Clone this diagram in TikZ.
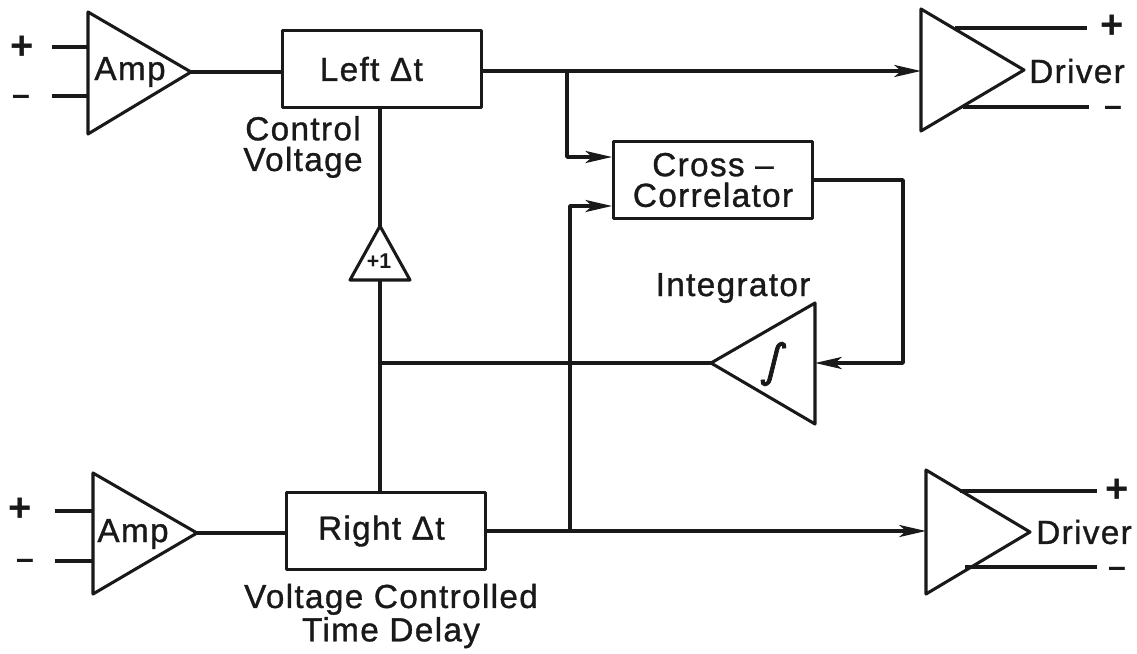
\documentclass[tikz,border=0pt]{standalone}
\usepackage{fontspec}
\setmainfont{Liberation Sans}
\newfontfamily\labf[LetterSpace=4,FakeBold=1]{Liberation Sans}
\newfontfamily\intf[FakeSlant=0.2,FakeBold=1.5]{DejaVu Sans}
\usetikzlibrary{arrows.meta}
\definecolor{ink}{gray}{0.1}
\tikzset{
 heavywire/.style={line width=2.6pt,draw=ink,line join=round},
 arrowwire/.style={heavywire,-{Stealth[length=20pt,width=9pt,inset=5pt]}},
 tri/.style={draw=ink,line width=2.3pt,line join=round},
 lab/.style={font=\labf\fontsize{25}{23}\selectfont,inner sep=0pt,align=center,text=ink},
 boxnode/.style={lab,draw=ink,line width=2.3pt,line join=round,inner sep=0pt,minimum height=58pt,minimum width=149pt},
 sign/.style={font=\bfseries\fontsize{30}{30}\selectfont,inner sep=0pt,text=ink},
 minus/.style={font=\bfseries\fontsize{24}{24}\selectfont,inner sep=0pt,text=ink},
}
\begin{document}
\begin{tikzpicture}[x=0.75pt,y=-0.75pt]
\useasboundingbox (0,0) rectangle (1137,653);
% triangles
\draw[tri] (88,12) -- (191,72) -- (88,134) -- cycle;
\draw[tri] (93,473) -- (197,533) -- (93,594) -- cycle;
\draw[tri] (921,9) -- (1024,70) -- (921,131) -- cycle;
\draw[tri] (926,470) -- (1030,532) -- (926,594) -- cycle;
\draw[tri] (380,226) -- (410,280) -- (350,280) -- cycle;
\draw[tri] (815,303) -- (815,424) -- (711,363) -- cycle;
% nodes
\node[lab] (amp1) at (130,72) {Amp};
\node[lab] (amp2) at (133,534) {Amp};
\node[lab] (drv1) at (1077,71) {Driver};
\node[lab] (drv2) at (1084,532) {Driver};
\node[boxnode] (left) at (382,69) {\raisebox{-3pt}{Left Δt\hspace*{16pt}}};
\node[boxnode] (right) at (386,531) {\raisebox{-2pt}{Right Δt\hspace*{7pt}}};
\node[boxnode] (cc) at (713,180) {\raisebox{-3pt}{\parbox{147pt}{\centering Cross –\\Correlator}}};
\node[lab] (cv) at (303,147) {Control\\Voltage};
\node[lab] (integ) at (733,288) {Integrator};
\node[lab,font=\labf\fontsize{25}{25}\selectfont] (vctd) at (391,616) {Voltage Controlled\\Time Delay};
\node[lab,font=\bfseries\fontsize{16}{16}\selectfont] (p1) at (379,261) {+1};
\node[lab,font=\intf\fontsize{34}{34}\selectfont] (int) at (771,364) {∫};
% signs
\node[sign] (a) at (22,48) {+};
\node[minus] (b) at (21,100) {–};
\node[sign] (c) at (20,510) {+};
\node[minus] (d) at (25,564) {–};
\node[sign] (e) at (1112,27) {+};
\node[minus] (f) at (1113,111) {–};
\node[sign] (g) at (1117,491) {+};
\node[minus] (h) at (1117,572) {–};
% input stubs
\coordinate (i1a) at (52,47); \coordinate (i1b) at (88,47);
\coordinate (i2a) at (52,96); \coordinate (i2b) at (88,96);
\coordinate (i3a) at (55,511); \coordinate (i3b) at (93,511);
\coordinate (i4a) at (55,561); \coordinate (i4b) at (93,561);
\draw[heavywire] (i1a)--(i1b); \draw[heavywire] (i2a)--(i2b); \draw[heavywire] (i3a)--(i3b); \draw[heavywire] (i4a)--(i4b);
\coordinate (o1) at (191,72); \coordinate (o2) at (197,533);
\draw[heavywire] (o1)--(left.west|-o1);
\draw[heavywire] (o2)--(right.west|-o2);
% driver outputs
\coordinate (d1a) at (955,28); \coordinate (d1b) at (1087,28);
\coordinate (d2a) at (963,107); \coordinate (d2b) at (1089,107);
\coordinate (d3a) at (960,491); \coordinate (d3b) at (1097,491);
\coordinate (d4a) at (965,567); \coordinate (d4b) at (1097,567);
\draw[heavywire] (d1a)--(d1b); \draw[heavywire] (d2a)--(d2b);
\draw[heavywire] (d3a)--(d3b); \draw[heavywire] (d4a)--(d4b);
% main
\coordinate (m1) at (921,71); \coordinate (m2) at (926,531);
\draw[arrowwire] (left.east|-m1) -- (m1);
\draw[arrowwire] (right.east|-m2) -- (m2);
% cross inputs
\coordinate (c1) at (567,71); \coordinate (c2) at (570,531);
\coordinate (ci1) at (567,157); \coordinate (ci2) at (570,206);
\draw[arrowwire] (c1) -- (ci1) -- (cc.west|-ci1);
\draw[arrowwire] (c2) -- (ci2) -- (cc.west|-ci2);
% cc output
\coordinate (k1) at (903,180); \coordinate (k2) at (903,363); \coordinate (k3) at (815,363);
\draw[arrowwire] (cc.east|-k1) -- (k1) -- (k2) -- (k3);
% control
\coordinate (t) at (380,226); \coordinate (b) at (380,280); \coordinate (j) at (380,363); \coordinate (ie) at (711,363);
\draw[heavywire] (left.south-|t) -- (t);
\draw[heavywire] (b) -- (right.north-|b);
\draw[heavywire] (j) -- (ie);
\end{tikzpicture}
\end{document}
